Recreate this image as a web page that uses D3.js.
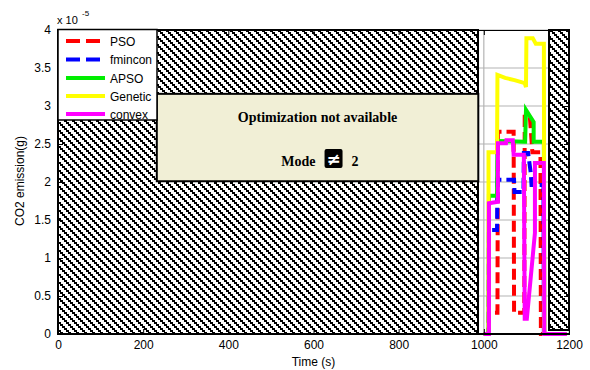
<!DOCTYPE html>
<html>
<head>
<meta charset="utf-8">
<script src="https://cdn.jsdelivr.net/npm/d3@7"></script>
<style>
  body { margin: 0; background: #fff; }
  svg { display: block; }
  text { font-family: Arial, "Liberation Sans", sans-serif; }
</style>
</head>
<body>
<svg id="chart" width="590" height="370"></svg>
<script>
// ---- data (CO2 emission in units of 1e-5 g, time in s) ----
const seriesNames = ["PSO", "fmincon", "APSO", "Genetic", "convex"];

const psoTime  = [1000, 1011, 1012, 1032, 1033, 1070, 1071, 1095, 1096, 1108, 1114, 1133, 1134, 1195];
const psoValue = [0, 0, 0.28, 0.28, 2.66, 2.66, 0.28, 0.28, 2.86, 2.86, 2.39, 2.39, 0, 0];

const fminconTime  = [1000, 1011, 1012, 1031, 1032, 1071, 1072, 1093, 1094, 1104, 1110, 1112, 1140, 1141, 1195];
const fminconValue = [0, 0, 1.37, 1.37, 2.03, 2.03, 1.87, 1.87, 2.38, 2.38, 2.13, 1.96, 1.96, 0, 0];

const apsoTime  = [1000, 1011, 1012, 1031, 1032, 1096, 1097, 1099, 1117, 1117, 1141, 1142, 1195];
const apsoValue = [0, 0, 1.82, 1.82, 2.54, 2.53, 2.53, 2.95, 2.79, 2.53, 2.53, 0, 0];

const geneticTime  = [1000, 1011, 1011, 1031, 1032, 1050, 1072, 1096, 1099, 1100, 1115, 1122, 1141, 1142, 1195];
const geneticValue = [0, 0, 2.39, 2.39, 3.41, 3.37, 3.34, 3.30, 3.25, 3.89, 3.89, 3.82, 3.82, 0, 0];

const convexTime  = [1000, 1012, 1012, 1033, 1033, 1052, 1053, 1068, 1070, 1094, 1096, 1101, 1120, 1120, 1141, 1142, 1195];
const convexValue = [0, 0, 1.72, 1.74, 2.51, 2.51, 2.55, 2.55, 2.36, 2.36, 0.20, 0.20, 1.33, 2.25, 2.25, 0, 0];

const xTicks = [0, 200, 400, 600, 800, 1000, 1200];
const xTickLabels = ["0", "200", "400", "600", "800", "1000", "1200"];
const yTicks = [0, 0.5, 1, 1.5, 2, 2.5, 3, 3.5, 4];
const yTickLabels = ["0", "0.5", "1", "1.5", "2", "2.5", "3", "3.5", "4"];

// time windows where optimisation is blocked
const blockedStart = [0, 1153];
const blockedEnd   = [987, 1200];
const blockedLow   = [0, 0.05];
const blockedHigh  = [4, 4];

// ---- layout ----
const svg = d3.select("#chart");
const x = d3.scaleLinear().domain([0, 1200]).range([58, 569]);
const y = d3.scaleLinear().domain([0, 4]).range([334, 30]);

const styles = {
  PSO:     { color: "#ff0000", dash: "11,5" },
  fmincon: { color: "#0000ff", dash: "11,5" },
  APSO:    { color: "#00ee00", dash: null },
  Genetic: { color: "#ffff00", dash: null },
  convex:  { color: "#ff00ff", dash: null }
};

// back-slash hatch built from pixel steps
const defs = svg.append("defs");
const pat = defs.append("pattern")
  .attr("id", "hatch")
  .attr("patternUnits", "userSpaceOnUse")
  .attr("width", 8).attr("height", 8);
pat.append("rect").attr("width", 8).attr("height", 8).attr("fill", "#fff");
[[0, 0, 3], [2, 2, 3], [4, 4, 3], [6, 6, 2], [0, 6, 1]].forEach(([px, py, w]) => {
  pat.append("rect").attr("x", px).attr("y", py)
    .attr("width", w).attr("height", 2).attr("fill", "#000");
});

defs.append("clipPath").attr("id", "plotClip")
  .append("rect").attr("x", 58).attr("y", 28).attr("width", 511).attr("height", 309);

// grid
const grid = svg.append("g");
grid.selectAll("line.h").data(yTicks).join("line")
  .attr("x1", x(0)).attr("x2", x(1200))
  .attr("y1", d => y(d)).attr("y2", d => y(d))
  .attr("stroke", "#b4b4b4").attr("stroke-width", 1.2);
grid.selectAll("line.v").data(xTicks).join("line")
  .attr("y1", y(0)).attr("y2", y(4))
  .attr("x1", d => x(d)).attr("x2", d => x(d))
  .attr("stroke", "#b4b4b4").attr("stroke-width", 1.2);

// blocked windows
svg.append("g").selectAll("rect").data(blockedStart).join("rect")
  .attr("x", (d, i) => x(d))
  .attr("width", (d, i) => x(blockedEnd[i]) - x(d))
  .attr("y", (d, i) => y(blockedHigh[i]))
  .attr("height", (d, i) => y(blockedLow[i]) - y(blockedHigh[i]))
  .attr("fill", "url(#hatch)")
  .attr("stroke", "#000").attr("stroke-width", 2)
  .attr("shape-rendering", "crispEdges");

// series
const seriesData = {
  PSO: [psoTime, psoValue],
  fmincon: [fminconTime, fminconValue],
  APSO: [apsoTime, apsoValue],
  Genetic: [geneticTime, geneticValue],
  convex: [convexTime, convexValue]
};
const line = d3.line().x(d => x(d[0])).y(d => y(d[1]));
const lines = svg.append("g").attr("clip-path", "url(#plotClip)");
seriesNames.forEach(name => {
  const [t, v] = seriesData[name];
  const pts = t.map((tt, i) => [tt, v[i]]);
  lines.append("path")
    .attr("d", line(pts))
    .attr("fill", "none")
    .attr("stroke", styles[name].color)
    .attr("stroke-width", 4)
    .attr("stroke-linejoin", "miter")
    .attr("stroke-dasharray", styles[name].dash);
});

// notice box
const nb = svg.append("g");
nb.append("rect")
  .attr("x", x(232)).attr("y", y(3.16))
  .attr("width", x(987) - x(232)).attr("height", y(2.01) - y(3.16))
  .attr("fill", "#f1efd6").attr("stroke", "#000").attr("stroke-width", 2);
const cx = (x(232) + x(987)) / 2;
const serif = "'Liberation Serif','Times New Roman',serif";
nb.append("text").attr("x", cx).attr("y", 122)
  .attr("text-anchor", "middle")
  .style("font-family", serif)
  .style("font-weight", "bold").style("font-size", "14px")
  .text("Optimization not available");
nb.append("text").attr("x", cx - 2).attr("y", 166)
  .attr("text-anchor", "end")
  .style("font-family", serif)
  .style("font-weight", "bold").style("font-size", "14px")
  .text("Mode");
nb.append("rect").attr("x", cx + 7).attr("y", 149)
  .attr("width", 18).attr("height", 19).attr("rx", 2).attr("fill", "#000");
nb.append("text").attr("x", cx + 16).attr("y", 165)
  .attr("text-anchor", "middle").attr("fill", "#fff")
  .style("font-family", "'DejaVu Sans',sans-serif")
  .style("font-weight", "bold").style("font-size", "17px")
  .text("\u2260");
nb.append("text").attr("x", cx + 34).attr("y", 166)
  .style("font-family", serif)
  .style("font-weight", "bold").style("font-size", "14px")
  .text("2");

// frame and ticks
svg.append("rect").attr("x", 58).attr("y", 30).attr("width", 511).attr("height", 304)
  .attr("fill", "none").attr("stroke", "#000").attr("stroke-width", 1)
  .attr("shape-rendering", "crispEdges");
svg.append("line").attr("x1", 58).attr("x2", 569).attr("y1", 334).attr("y2", 334)
  .attr("stroke", "#000").attr("stroke-width", 2);

const axB = svg.append("g").attr("transform", "translate(0,334)")
  .call(d3.axisBottom(x).tickValues(xTicks).tickSizeInner(-5).tickSizeOuter(0).tickPadding(8)
    .tickFormat((d, i) => xTickLabels[i]));
const axT = svg.append("g").attr("transform", "translate(0,30)")
  .call(d3.axisTop(x).tickValues(xTicks).tickSizeInner(-5).tickSizeOuter(0).tickFormat(""));
const axL = svg.append("g").attr("transform", "translate(58,0)")
  .call(d3.axisLeft(y).tickValues(yTicks).tickSizeInner(-5).tickSizeOuter(0).tickPadding(7)
    .tickFormat((d, i) => yTickLabels[i]));
const axR = svg.append("g").attr("transform", "translate(569,0)")
  .call(d3.axisRight(y).tickValues(yTicks).tickSizeInner(-5).tickSizeOuter(0).tickFormat(""));
[axB, axT, axL, axR].forEach(a => {
  a.select(".domain").remove();
  a.selectAll("text").style("font-size", "12px").attr("fill", "#000");
});
axB.selectAll("text").attr("dy", "0.6em");

// exponent marker
svg.append("text").attr("x", 57).attr("y", 24).style("font-size", "11px").text("x 10");
svg.append("text").attr("x", 82).attr("y", 16).style("font-size", "8px").text("-5");

// axis titles
svg.append("text").attr("x", x(600)).attr("y", 366).attr("text-anchor", "middle")
  .style("font-size", "12px").text("Time (s)");
svg.append("text").attr("transform", "translate(24,181) rotate(-90)")
  .attr("text-anchor", "middle").style("font-size", "12px").text("CO2 emission(g)");

// legend
const lg = svg.append("g");
lg.append("rect").attr("x", 58).attr("y", 29.5).attr("width", 99).attr("height", 90.5)
  .attr("fill", "#fff").attr("stroke", "#000").attr("stroke-width", 1.5);
const legendRowY = [41, 59.5, 78, 96, 114];
seriesNames.forEach((name, i) => {
  const st = styles[name];
  lg.append("line")
    .attr("x1", 66).attr("x2", st.dash ? 101 : 105)
    .attr("y1", legendRowY[i]).attr("y2", legendRowY[i])
    .attr("stroke", st.color).attr("stroke-width", 4)
    .attr("stroke-dasharray", st.dash ? "14,6" : null);
  lg.append("text").attr("x", 110).attr("y", legendRowY[i] + 4.5)
    .style("font-size", "12px").text(name);
});
</script>
</body>
</html>
